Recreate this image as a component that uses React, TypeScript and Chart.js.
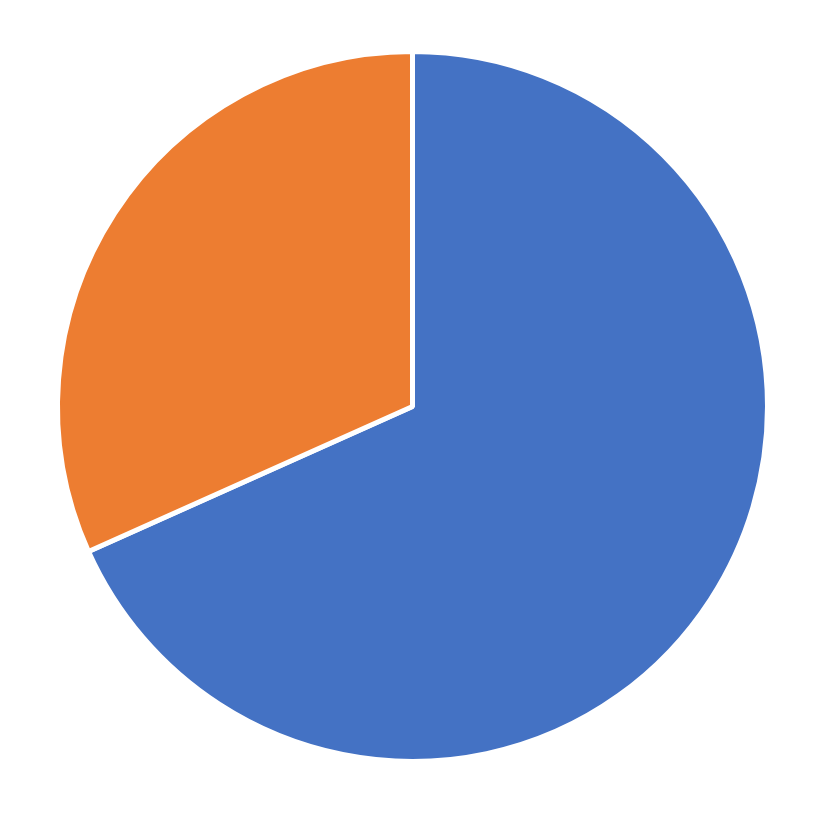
import { useEffect, useRef } from 'react';
import Chart from 'chart.js/auto';

const labels = ['A', 'B'];
const values = [68.3, 31.7];
const colors = ['#4472C4', '#ED7D31'];

export default function App() {
  const canvasRef = useRef<HTMLCanvasElement>(null);
  const chartRef = useRef<Chart | null>(null);

  useEffect(() => {
    document.body.style.margin = '0';
    if (!canvasRef.current) return;
    if (chartRef.current) chartRef.current.destroy();

    chartRef.current = new Chart(canvasRef.current, {
      type: 'pie',
      data: {
        labels,
        datasets: [
          {
            data: values,
            backgroundColor: colors,
            borderColor: '#FFFFFF',
            borderWidth: 5,
          },
        ],
      },
      options: {
        responsive: false,
        animation: false,
        layout: { padding: 49 },
        plugins: { legend: { display: false }, tooltip: { enabled: false } },
      },
    });

    return () => {
      chartRef.current?.destroy();
      chartRef.current = null;
    };
  }, []);

  return (
    <div style={{ width: 825, height: 813, background: '#fff' }}>
      <canvas ref={canvasRef} width={825} height={813} />
    </div>
  );
}
